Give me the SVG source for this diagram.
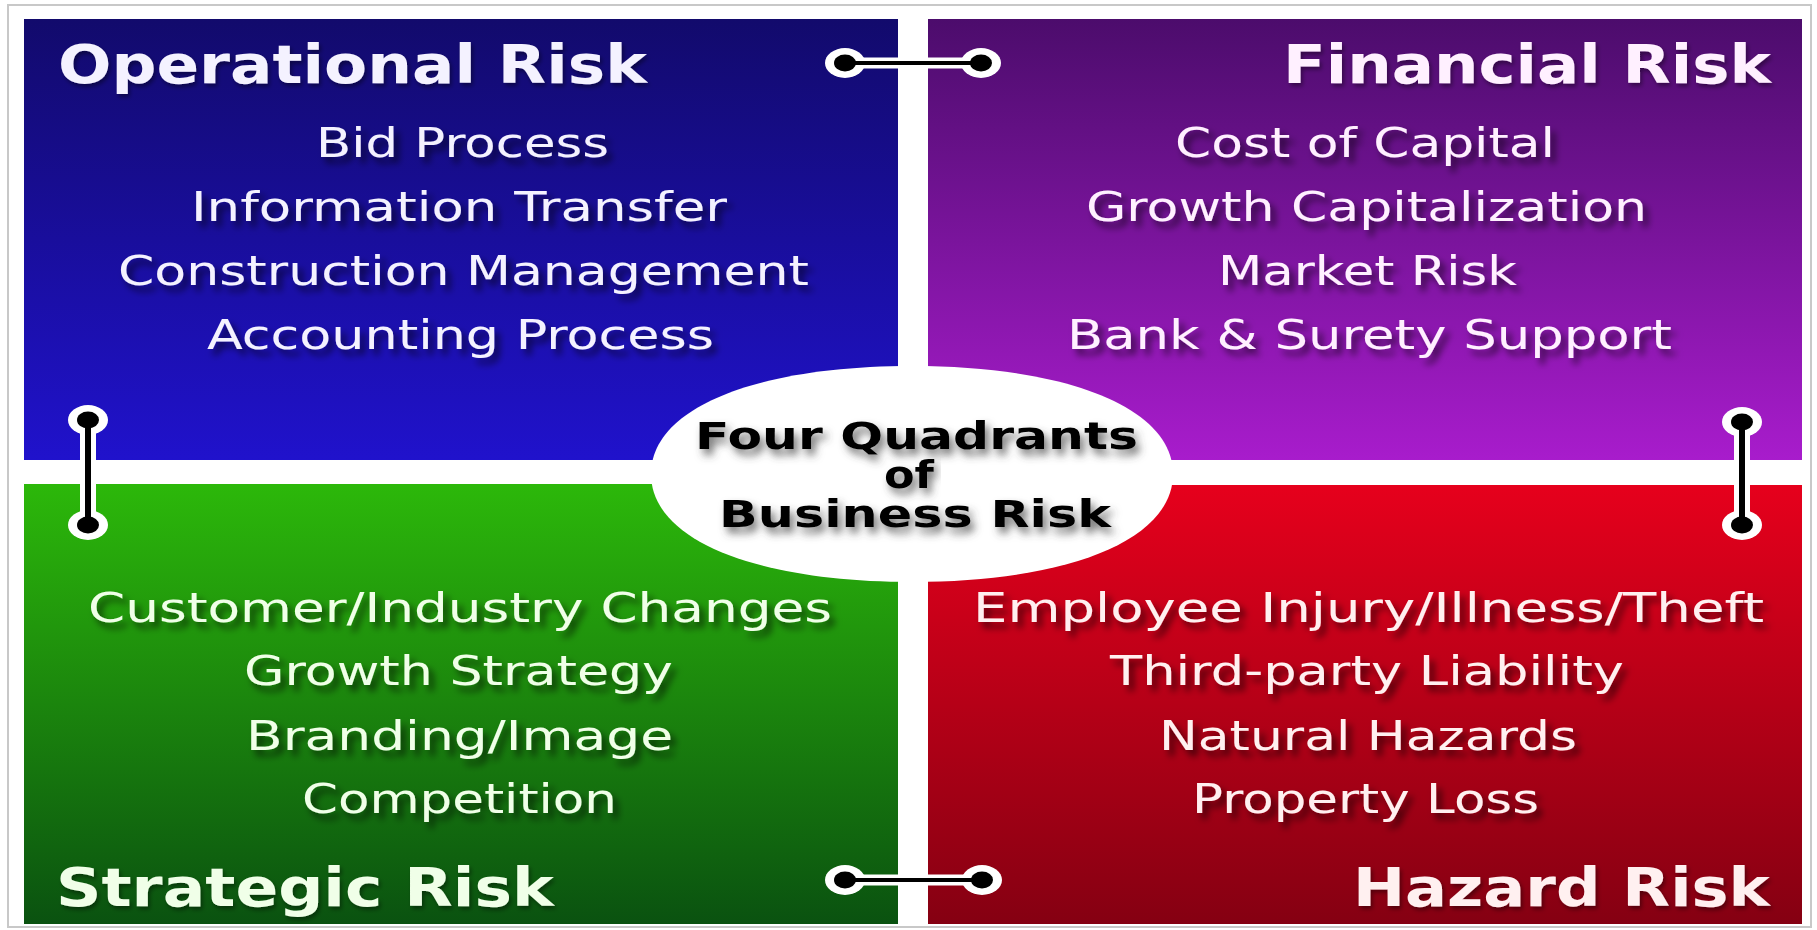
<svg xmlns="http://www.w3.org/2000/svg" width="1817" height="930" viewBox="0 0 1817 930">
<defs>
<linearGradient id="gBlue" x1="0" y1="0" x2="0" y2="1"><stop offset="0" stop-color="#120a6c"/><stop offset="1" stop-color="#2012cc"/></linearGradient>
<linearGradient id="gPurple" x1="0" y1="0" x2="0" y2="1"><stop offset="0" stop-color="#4c0c6c"/><stop offset="1" stop-color="#a81ccc"/></linearGradient>
<linearGradient id="gGreen" x1="0" y1="0" x2="0" y2="1"><stop offset="0" stop-color="#2cb80a"/><stop offset="1" stop-color="#0a5210"/></linearGradient>
<linearGradient id="gRed" x1="0" y1="0" x2="0" y2="1"><stop offset="0" stop-color="#e6001c"/><stop offset="1" stop-color="#850012"/></linearGradient>
<filter id="shItem" x="-10%" y="-30%" width="120%" height="170%"><feDropShadow dx="5" dy="6" stdDeviation="3.5" flood-color="#000" flood-opacity="0.6"/></filter>
<filter id="shTitle" x="-10%" y="-30%" width="120%" height="170%"><feDropShadow dx="2" dy="3" stdDeviation="2" flood-color="#000" flood-opacity="0.4"/></filter>
<filter id="shCenter" x="-10%" y="-30%" width="120%" height="170%"><feDropShadow dx="4" dy="6" stdDeviation="4" flood-color="#444" flood-opacity="0.75"/></filter>
</defs>
<style>
.title{font-family:"DejaVu Sans",Verdana,sans-serif;font-weight:bold;font-size:54px;filter:url(#shTitle)}
.item{font-family:"DejaVu Sans",Tahoma,sans-serif;font-size:40px;filter:url(#shItem)}
.center{font-family:"DejaVu Sans",Verdana,sans-serif;font-weight:bold;font-size:37px;fill:#000;filter:url(#shCenter)}
.halo{stroke:#fff;fill:none}
.wire{stroke:#000;fill:none}
.ring{fill:#fff}
.dot{fill:#000}
</style>
<rect x="0" y="0" width="1817" height="930" fill="#fff"/>
<rect x="8" y="5" width="1803" height="922" fill="none" stroke="#c8c8c8" stroke-width="2"/>

<g id="operational">
<rect x="24" y="19" width="874" height="441" fill="url(#gBlue)"/>
<g fill="#f4f2ff">
<text class="title" x="58" y="83" textLength="589" lengthAdjust="spacingAndGlyphs">Operational Risk</text>
<text class="item" x="316" y="157" textLength="293" lengthAdjust="spacingAndGlyphs">Bid Process</text>
<text class="item" x="191" y="221" textLength="536" lengthAdjust="spacingAndGlyphs">Information Transfer</text>
<text class="item" x="118" y="285" textLength="691" lengthAdjust="spacingAndGlyphs">Construction Management</text>
<text class="item" x="207" y="349" textLength="507" lengthAdjust="spacingAndGlyphs">Accounting Process</text>
</g>
</g>

<g id="financial">
<rect x="928" y="19" width="874" height="441" fill="url(#gPurple)"/>
<g fill="#fff0ff">
<text class="title" x="1283" y="83" textLength="488" lengthAdjust="spacingAndGlyphs">Financial Risk</text>
<text class="item" x="1175" y="157" textLength="380" lengthAdjust="spacingAndGlyphs">Cost of Capital</text>
<text class="item" x="1086" y="221" textLength="561" lengthAdjust="spacingAndGlyphs">Growth Capitalization</text>
<text class="item" x="1218" y="285" textLength="299" lengthAdjust="spacingAndGlyphs">Market Risk</text>
<text class="item" x="1067" y="349" textLength="605" lengthAdjust="spacingAndGlyphs">Bank &amp; Surety Support</text>
</g>
</g>

<g id="strategic">
<rect x="24" y="484" width="874" height="440" fill="url(#gGreen)"/>
<g fill="#f0ffe8">
<text class="item" x="88" y="622" textLength="744" lengthAdjust="spacingAndGlyphs">Customer/Industry Changes</text>
<text class="item" x="244" y="685" textLength="429" lengthAdjust="spacingAndGlyphs">Growth Strategy</text>
<text class="item" x="246" y="750" textLength="427" lengthAdjust="spacingAndGlyphs">Branding/Image</text>
<text class="item" x="302" y="813" textLength="315" lengthAdjust="spacingAndGlyphs">Competition</text>
<text class="title" x="56" y="906" textLength="498" lengthAdjust="spacingAndGlyphs">Strategic Risk</text>
</g>
</g>

<g id="hazard">
<rect x="928" y="485" width="874" height="439" fill="url(#gRed)"/>
<g fill="#fff0f0">
<text class="item" x="973" y="622" textLength="791" lengthAdjust="spacingAndGlyphs">Employee Injury/Illness/Theft</text>
<text class="item" x="1110" y="685" textLength="514" lengthAdjust="spacingAndGlyphs">Third-party Liability</text>
<text class="item" x="1159" y="750" textLength="418" lengthAdjust="spacingAndGlyphs">Natural Hazards</text>
<text class="item" x="1192" y="813" textLength="347" lengthAdjust="spacingAndGlyphs">Property Loss</text>
<text class="title" x="1353" y="906" textLength="417" lengthAdjust="spacingAndGlyphs">Hazard Risk</text>
</g>
</g>

<g id="center">
<path d="M651,474 C651,407 758,366 912,366 C1066,366 1173,407 1173,474 C1173,541 1066,582 912,582 C758,582 651,541 651,474 Z" fill="#fff"/>
<text class="center" x="695" y="449" textLength="443" lengthAdjust="spacingAndGlyphs">Four Quadrants</text>
<text class="center" x="884" y="488" textLength="50" lengthAdjust="spacingAndGlyphs">of</text>
<text class="center" x="719" y="527" textLength="392" lengthAdjust="spacingAndGlyphs">Business Risk</text>
</g>

<g id="connectors">
<g id="conn-top">
<line class="halo" x1="845" y1="63" x2="981" y2="63" stroke-width="11"/>
<ellipse class="ring" cx="845" cy="63" rx="20" ry="15"/>
<ellipse class="ring" cx="981" cy="63" rx="20" ry="15"/>
<line class="wire" x1="845" y1="63" x2="981" y2="63" stroke-width="4"/>
<ellipse class="dot" cx="845" cy="63" rx="11" ry="8.5"/>
<ellipse class="dot" cx="981" cy="63" rx="11" ry="8.5"/>
</g>
<g id="conn-bottom">
<line class="halo" x1="845" y1="880" x2="982" y2="880" stroke-width="11"/>
<ellipse class="ring" cx="845" cy="880" rx="20" ry="15"/>
<ellipse class="ring" cx="982" cy="880" rx="20" ry="15"/>
<line class="wire" x1="845" y1="880" x2="982" y2="880" stroke-width="4"/>
<ellipse class="dot" cx="845" cy="880" rx="11" ry="8.5"/>
<ellipse class="dot" cx="982" cy="880" rx="11" ry="8.5"/>
</g>
<g id="conn-left">
<line class="halo" x1="88" y1="420" x2="88" y2="525" stroke-width="16"/>
<ellipse class="ring" cx="88" cy="420" rx="20" ry="15"/>
<ellipse class="ring" cx="88" cy="525" rx="20" ry="15"/>
<line class="wire" x1="88" y1="420" x2="88" y2="525" stroke-width="6"/>
<ellipse class="dot" cx="88" cy="420" rx="11" ry="8.5"/>
<ellipse class="dot" cx="88" cy="525" rx="11" ry="8.5"/>
</g>
<g id="conn-right">
<line class="halo" x1="1742" y1="422" x2="1742" y2="525" stroke-width="16"/>
<ellipse class="ring" cx="1742" cy="422" rx="20" ry="15"/>
<ellipse class="ring" cx="1742" cy="525" rx="20" ry="15"/>
<line class="wire" x1="1742" y1="422" x2="1742" y2="525" stroke-width="6"/>
<ellipse class="dot" cx="1742" cy="422" rx="11" ry="8.5"/>
<ellipse class="dot" cx="1742" cy="525" rx="11" ry="8.5"/>
</g>
</g>
</svg>
